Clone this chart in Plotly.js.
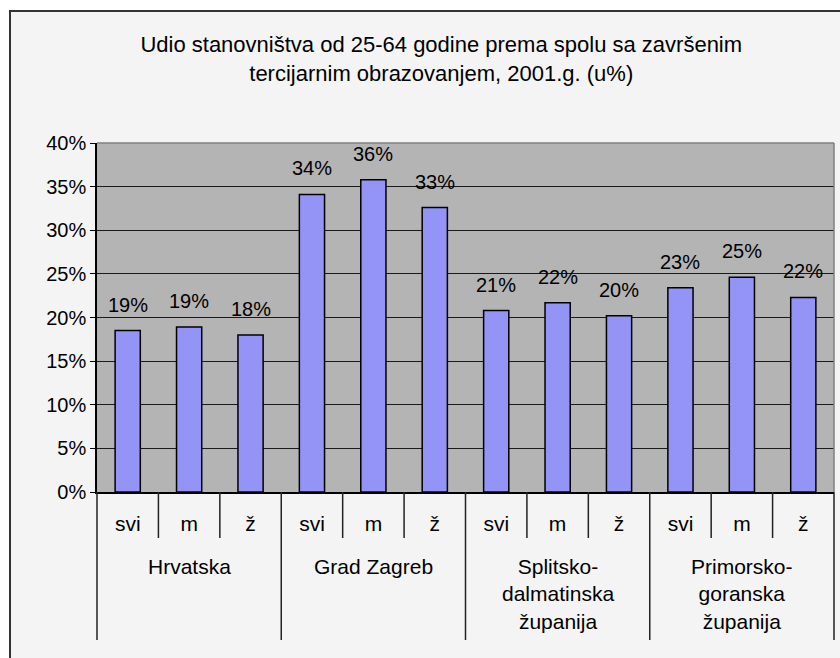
<!DOCTYPE html>
<html>
<head>
<meta charset="utf-8">
<script src="https://cdn.plot.ly/plotly-3.0.1.min.js"></script>
<style>
  body { margin: 0; background: #ffffff; overflow: hidden; }
  #wrap { position: absolute; left: 9px; top: 10px; width: 831px; height: 648px;
          border-left: 2px solid #333; border-top: 2px solid #333; }
  #chart { width: 829px; height: 646px; }
</style>
</head>
<body>
<div id="wrap"><div id="chart"></div></div>
<script>
// regions and sex split
var regions = ["Hrvatska", "Grad Zagreb", "Splitsko-dalmatinska županija", "Primorsko-goranska županija"];
var regionLabels = ["Hrvatska", "Grad Zagreb", "Splitsko-<br>dalmatinska<br>županija", "Primorsko-<br>goranska<br>županija"];
var sexes = ["svi", "m", "ž"];

// share with tertiary education, % (svi, m, ž per region)
var hrvatska = [18.5, 18.9, 18.0];
var zagreb = [34.1, 35.8, 32.6];
var split = [20.8, 21.7, 20.2];
var primorje = [23.4, 24.6, 22.3];

var values = [hrvatska, zagreb, split, primorje];

var font = "Liberation Sans, Arial, sans-serif";

// one category per bar, e.g. "Hrvatska svi"
var keys = [], ys = [], ticks = [];
regions.forEach(function (r, i) {
  sexes.forEach(function (s, j) {
    keys.push(r + " " + s);
    ys.push(values[i][j]);
    ticks.push(s);
  });
});

var trace = {
  x: keys,
  y: ys,
  type: "bar",
  marker: { color: "#9494f7", line: { color: "#000", width: 1.5 } },
  hoverinfo: "x+y"
};

// data labels above bars
var annotations = keys.map(function (k, i) {
  return {
    x: k, y: ys[i], xref: "x", yref: "y",
    text: Math.round(ys[i]) + "%",
    showarrow: false, yanchor: "middle", yshift: 26,
    font: { family: font, size: 20, color: "#000" }
  };
});

// region labels under the sex labels
regions.forEach(function (r, i) {
  annotations.push({
    x: r + " " + sexes[1], y: -0.176, xref: "x", yref: "paper",
    text: regionLabels[i], showarrow: false, yanchor: "top",
    font: { family: font, size: 21, color: "#000" }
  });
});

// separator lines in the category axis
var n = keys.length;
var shapes = [];
for (var k = 0; k <= n; k++) {
  var groupEdge = (k % sexes.length === 0);
  shapes.push({
    type: "line", xref: "paper", yref: "paper",
    x0: k / n, x1: k / n, y0: 0, y1: groupEdge ? -0.424 : -0.1318,
    line: { color: "#222", width: 1.5 }
  });
}
// plot area border, top and right
shapes.push({ type: "line", xref: "paper", yref: "paper", x0: 0, x1: 1, y0: 1, y1: 1,
  line: { color: "#808080", width: 1.5 } });
shapes.push({ type: "line", xref: "paper", yref: "paper", x0: 1, x1: 1, y0: 0, y1: 1,
  line: { color: "#808080", width: 1.5 } });

var layout = {
  title: {
    text: "Udio stanovništva od 25-64 godine prema spolu sa završenim<br>tercijarnim obrazovanjem, 2001.g. (u%)",
    font: { family: font, size: 22, color: "#000" },
    x: 0.519, xref: "container", y: 0.938, yref: "container", yanchor: "top"
  },
  paper_bgcolor: "#f4f4f4",
  plot_bgcolor: "#b4b4b4",
  margin: { l: 86, r: 6, t: 131, b: 166 },
  bargap: 0.59,
  showlegend: false,
  font: { family: font, size: 20, color: "#000" },
  xaxis: {
    type: "category",
    tickvals: keys,
    ticktext: ticks,
    ticks: "outside", ticklen: 12, tickcolor: "rgba(0,0,0,0)",
    showline: true, linecolor: "#000", linewidth: 1.5,
    showgrid: false,
    tickfont: { family: font, size: 21, color: "#000" }
  },
  yaxis: {
    range: [0, 40],
    dtick: 5,
    ticksuffix: "%",
    ticks: "outside", ticklen: 5, tickcolor: "#000",
    showline: true, linecolor: "#000", linewidth: 1.5,
    gridcolor: "#1a1a1a", gridwidth: 1,
    zeroline: false,
    tickfont: { family: font, size: 20, color: "#000" }
  },
  annotations: annotations,
  shapes: shapes
};

Plotly.newPlot("chart", [trace], layout, { displayModeBar: false, responsive: false });
</script>
</body>
</html>
